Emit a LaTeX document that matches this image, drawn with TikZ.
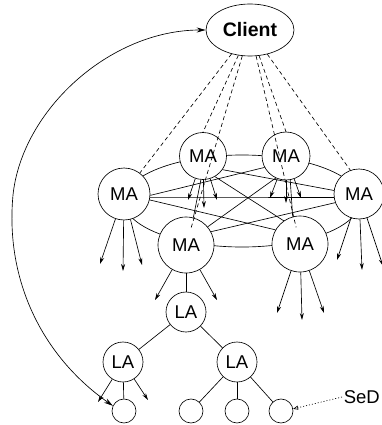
\documentclass[tikz,border=0pt]{standalone}
\usepackage{fontspec}
\setmainfont{Liberation Sans}
\usetikzlibrary{shapes.geometric,arrows.meta}
\begin{document}
\begin{tikzpicture}[x=1pt,y=-1pt,line width=0.65pt,
  lbl/.style={font=\fontsize{18.5pt}{20pt}\selectfont},
  agent/.style={circle,draw,fill=white,inner sep=0pt,lbl},
  leaf/.style={circle,draw,fill=white,inner sep=0pt,minimum size=24pt},
  arr/.style={-{Stealth[length=7pt,width=4pt]}},
  dline/.style={dash pattern=on 4pt off 3pt},
  bigarr/.style={{Stealth[length=9pt,width=5pt]}-{Stealth[length=9pt,width=5pt]}},
  dotarr/.style={dash pattern=on 1pt off 2pt,-{Triangle[open,length=5pt,width=4pt]}}]
\useasboundingbox (0,0) rectangle (381,425);

% ring
\draw (242,201) ellipse [x radius=118pt, y radius=46pt];

% nodes
\node[ellipse,draw,fill=white,inner sep=0pt,minimum width=88pt,minimum height=52pt,
      font=\bfseries\fontsize{19.5pt}{21pt}\selectfont] (Client) at (250,30) {Client};
\node[agent,minimum size=47pt] (A) at (203,156) {MA};
\node[agent,minimum size=48pt] (B) at (286,156) {MA};
\node[agent,minimum size=52pt] (C) at (124,194) {MA};
\node[agent,minimum size=50pt] (D) at (359,194) {MA};
\node[agent,minimum size=56pt] (E) at (186,245) {MA};
\node[agent,minimum size=56pt] (F) at (300,244) {MA};
\node[agent,minimum size=40pt] (L1) at (186,312) {LA};
\node[agent,minimum size=40pt] (L2) at (123,362) {LA};
\node[agent,minimum size=40pt] (L3) at (237,362) {LA};
\node[leaf] (s1) at (124,411) {};
\node[leaf] (s2) at (191,411) {};
\node[leaf] (s3) at (237,411) {};
\node[leaf] (s4) at (281,411) {};
\node[lbl,inner sep=1.5pt,anchor=west] (SeD) at (342,397) {SeD};

% chords
\draw (C.-3) -- (B.208);
\draw (C.-8) -- (D.188);
\draw (C.-13) -- (F.150);
\draw (D.172) -- (A.-35);
\draw (D.200) -- (E.28);
\draw (A.-60) -- (F.125);
\draw (B.-115) -- (E.40);
\draw (A.-95) -- (E.75);
\draw (B.-80) -- (F.105);

% downward arrows
\draw[arr] (A) -- +(-15,44);
\draw[arr] (A) -- +(1,52);
\draw[arr] (A) -- +(14,44);
\draw[arr] (B) -- +(-16,42);
\draw[arr] (B) -- +(0,47);
\draw[arr] (B) -- +(15,42);
\draw[arr] (C) -- +(-24,70);
\draw[arr] (C) -- +(-1,77);
\draw[arr] (C) -- +(18,71);
\draw[arr] (D) -- +(-22,66);
\draw[arr] (D) -- +(3,76);
\draw[arr] (D) -- +(24,72);
\draw[arr] (E) -- +(-31,55);
\draw[arr] (E) -- +(31,55);
\draw[arr] (F) -- +(-23,69);
\draw[arr] (F) -- +(2,76);
\draw[arr] (F) -- +(24,69);
\draw[arr] (L2) -- +(-25,40);
\draw[arr] (L2) -- +(25,38);

% tree
\draw (E) -- (L1);
\draw (L1) -- (L2);
\draw (L1) -- (L3);
\draw (L2) -- (s1);
\draw (L3) -- (s2);
\draw (L3) -- (s3);
\draw (L3) -- (s4);

% dashed client links
\draw[dline] (Client) -- (C.53);
\draw[dline] (Client) -- (A.90);
\draw[dline,shorten >=17pt] (Client) -- (E.center);
\draw[dline,shorten >=17pt] (Client) -- (F.center);
\draw[dline] (Client) -- (B.90);
\draw[dline] (Client) -- (D.110);

% big return arrow
\draw[bigarr] (Client.west) .. controls (110,30) and (22,110) .. (13,195)
  .. controls (5,280) and (42,356) .. (s1.155);

% SeD pointer
\draw[dotarr] (SeD.west) -- (s4.10);
\end{tikzpicture}
\end{document}
